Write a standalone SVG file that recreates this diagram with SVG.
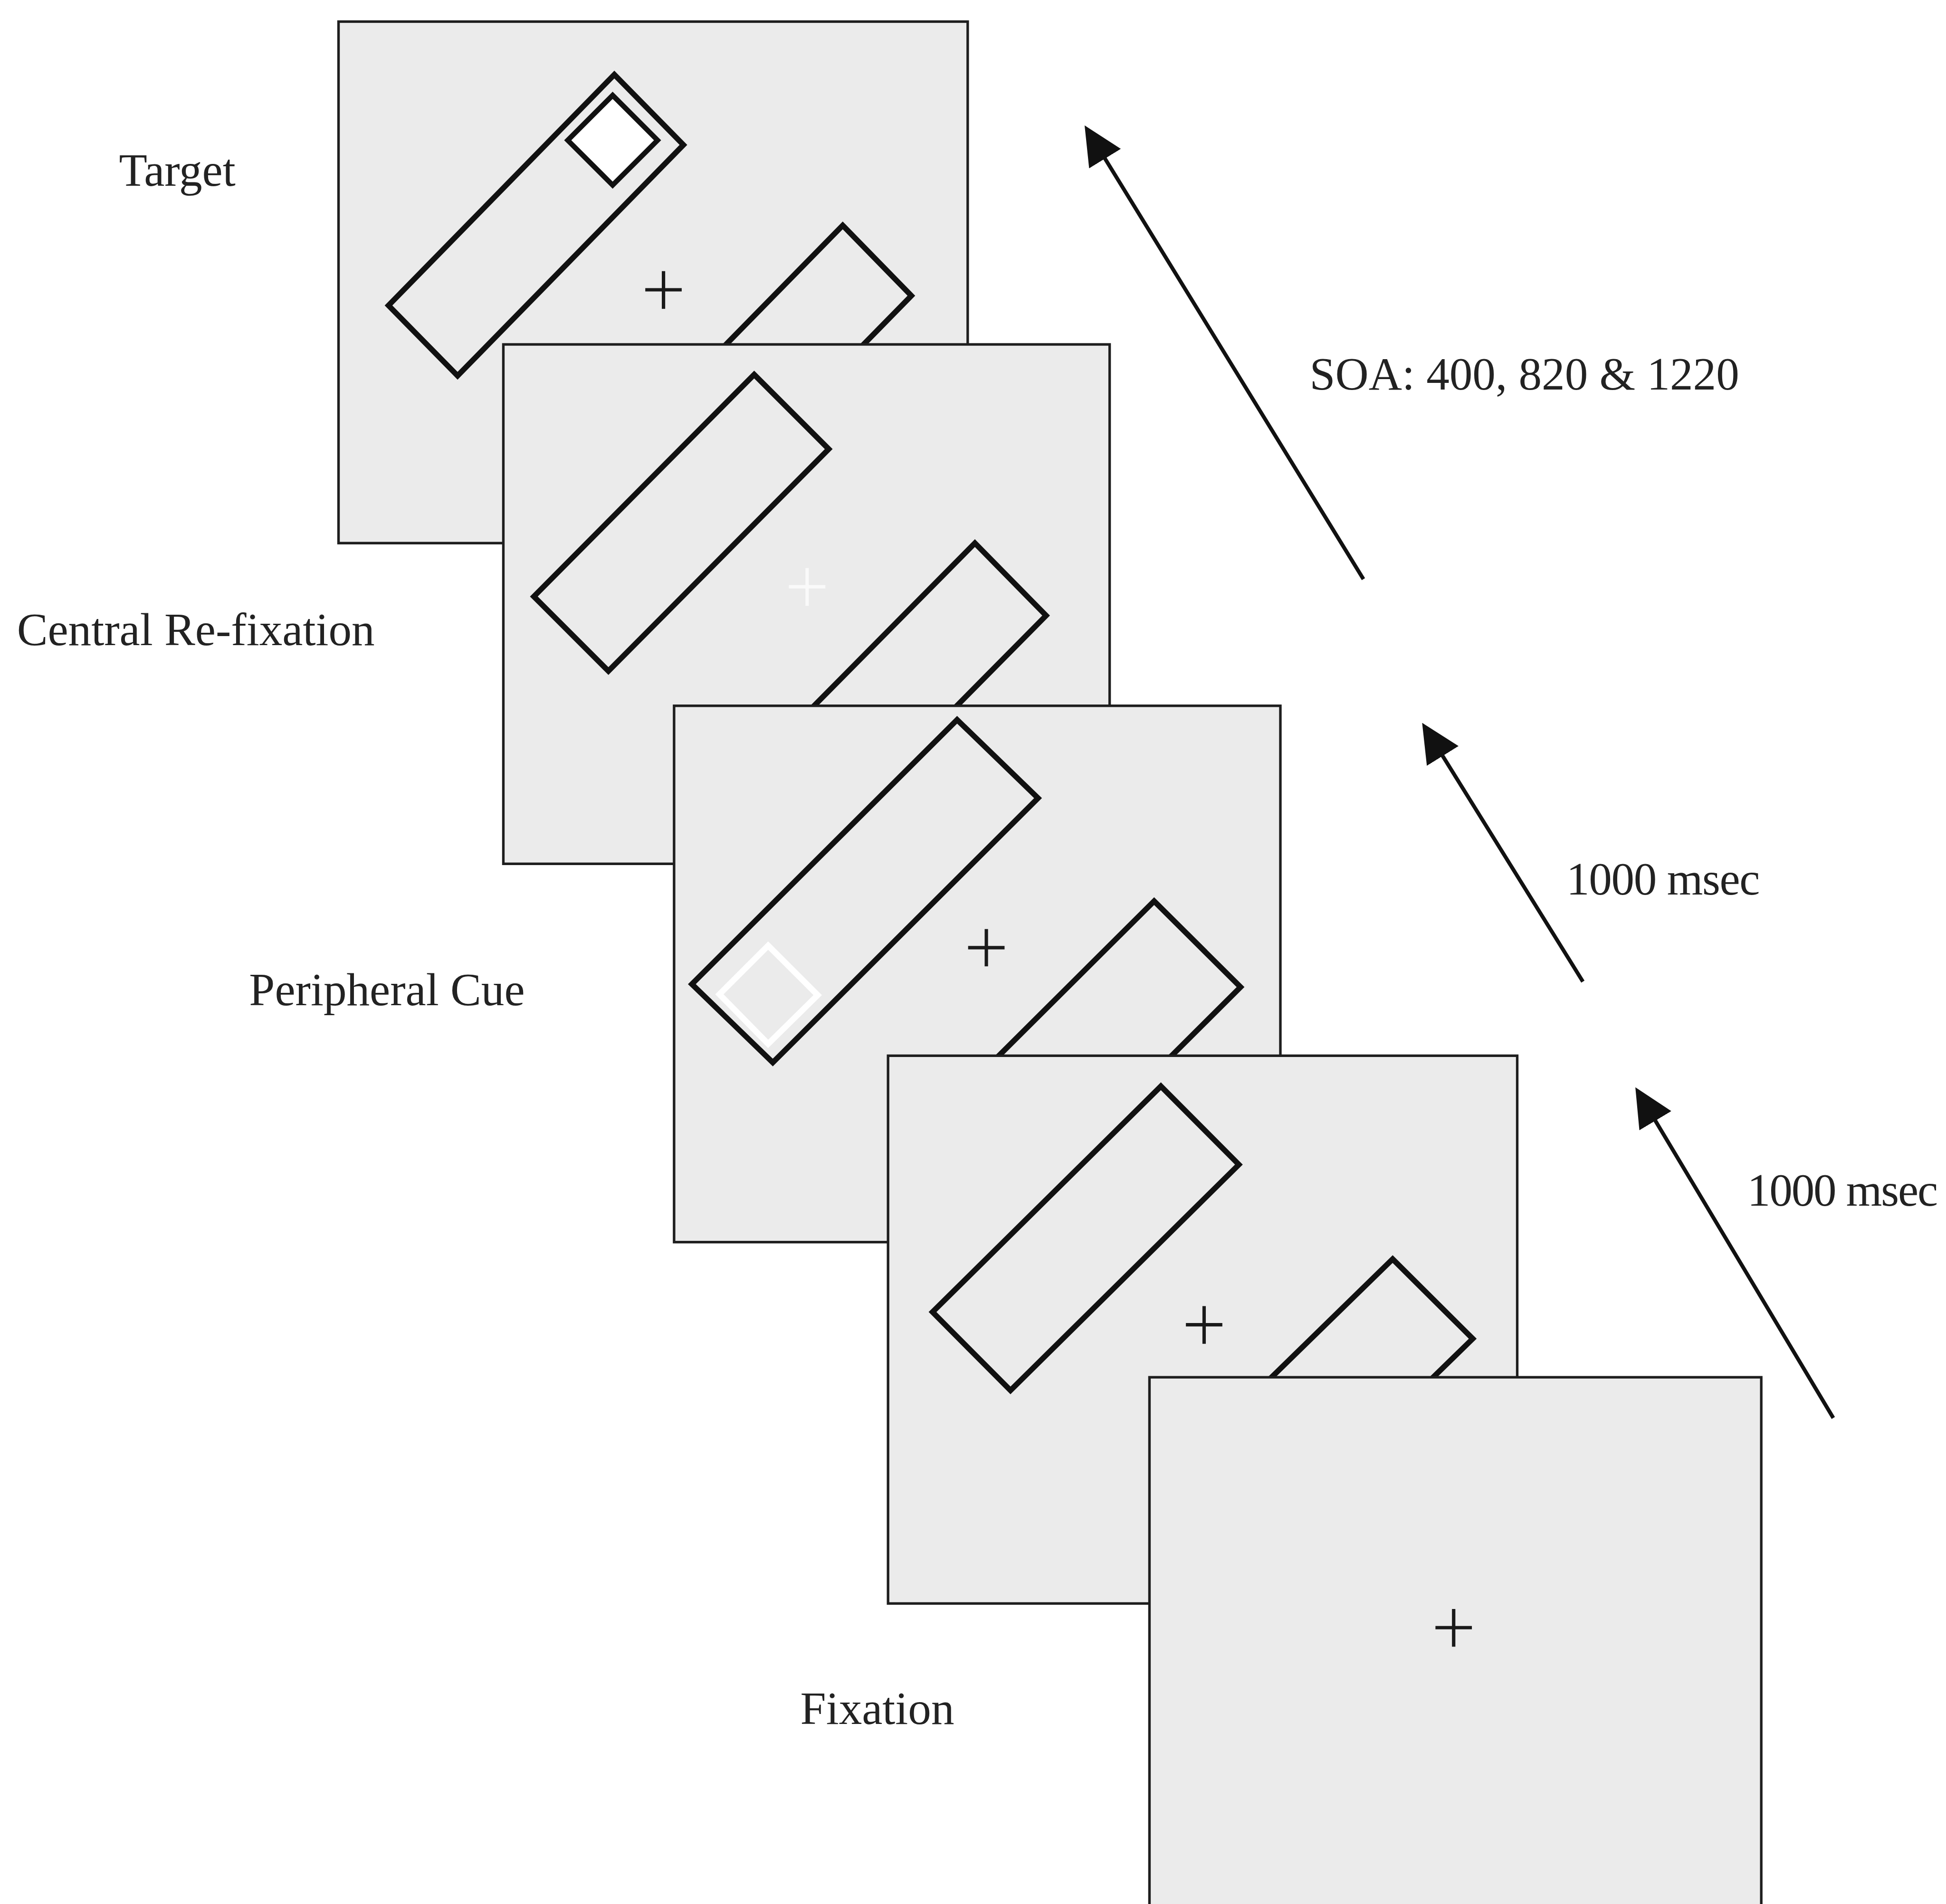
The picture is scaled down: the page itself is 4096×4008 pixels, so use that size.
<svg xmlns="http://www.w3.org/2000/svg" width="4096" height="4008" viewBox="0 0 4096 4008">
<style>
.bg{fill:#ffffff}
.panel{fill:#ebebeb;stroke:#1e1e1e;stroke-width:6}
.bar{fill:none;stroke:#111;stroke-width:13;stroke-linejoin:miter}
.cross{stroke:#1a1a1a;stroke-width:8}
.wcross{stroke:#fafafa;stroke-width:8}
.tgt{fill:#ffffff;stroke:#111;stroke-width:12}
.cue{fill:none;stroke:#ffffff;stroke-width:14}
.lbl{font-family:"Liberation Serif","Times New Roman",serif;font-size:109px;fill:#222}
.arrow{stroke:#111;stroke-width:9;fill:none;marker-end:url(#ah)}
</style>
<defs>
<marker id="ah" markerUnits="userSpaceOnUse" viewBox="0 0 92 88" markerWidth="92" markerHeight="88" refX="4" refY="44" orient="auto">
<path d="M0,0 L92,44 L0,88 z" fill="#111"/>
</marker>
</defs>
<rect class="bg" x="0" y="0" width="4096" height="4008"/>
<g transform="scale(0.89179)">
<g id="panel-target">
<rect class="panel" x="799" y="51" width="1485" height="1231"/>
<polygon class="bar" points="1450,176 1613,342 1080,887 917,721"/>
<polygon class="tgt" points="1446,225 1552,331 1446,437 1340,331"/>
<line class="cross" x1="1523" y1="684" x2="1609" y2="684"/>
<line class="cross" x1="1566" y1="640" x2="1566" y2="729"/>
<polygon class="bar" points="1989,532 2151,698 1619,1241 1457,1075"/>
</g>
<g id="panel-refixation">
<rect class="panel" x="1188" y="813" width="1431" height="1226"/>
<polygon class="bar" points="1780,884 1956,1060 1436,1584 1260,1408"/>
<line class="wcross" x1="1862" y1="1385" x2="1948" y2="1385"/>
<line class="wcross" x1="1905" y1="1341" x2="1905" y2="1430"/>
<polygon class="bar" points="2301,1282 2469,1453 1951,1977 1783,1806"/>
</g>
<g id="panel-cue">
<rect class="panel" x="1591" y="1666" width="1431" height="1266"/>
<polygon class="bar" points="2259,1699 2450,1884 1824,2508 1633,2323"/>
<polygon class="cue" points="1813,2232 1930,2349 1813,2464 1698,2347"/>
<line class="cross" x1="2285" y1="2237" x2="2371" y2="2237"/>
<line class="cross" x1="2328" y1="2193" x2="2328" y2="2281"/>
<polygon class="bar" points="2724,2127 2928,2330 2428,2828 2224,2625"/>
</g>
<g id="panel-fixation-placeholders">
<rect class="panel" x="2096" y="2492" width="1485" height="1293"/>
<polygon class="bar" points="2740,2564 2924,2749 2385,3282 2201,3097"/>
<line class="cross" x1="2799" y1="3127" x2="2885" y2="3127"/>
<line class="cross" x1="2842" y1="3083" x2="2842" y2="3172"/>
<polygon class="bar" points="3287,2972 3476,3160 2937,3686 2748,3498"/>
</g>
<g id="panel-fixation">
<rect class="panel" x="2713" y="3251" width="1444" height="1400"/>
<line class="cross" x1="3388" y1="3842" x2="3474" y2="3842"/>
<line class="cross" x1="3431" y1="3798" x2="3431" y2="3887"/>
</g>
<g id="connectors">
<line class="arrow" x1="3218" y1="1367" x2="2606" y2="371"/>
<line class="arrow" x1="3736" y1="2317" x2="3403" y2="1781"/>
<line class="arrow" x1="4327" y1="3347" x2="3905" y2="2642"/>
</g>
<g id="labels">
<text class="lbl" x="281" y="439">Target</text>
<text class="lbl" x="40" y="1523">Central Re-fixation</text>
<text class="lbl" x="588" y="2373">Peripheral Cue</text>
<text class="lbl" x="1889" y="4069">Fixation</text>
<text class="lbl" x="3091" y="920" font-size="112" textLength="1014" lengthAdjust="spacingAndGlyphs">SOA: 400, 820 &amp; 1220</text>
<text class="lbl" x="3697" y="2111" font-size="98" textLength="457" lengthAdjust="spacing">1000 msec</text>
<text class="lbl" x="4124" y="2846" font-size="98" textLength="450" lengthAdjust="spacing">1000 msec</text>
</g>
</g>
</svg>
